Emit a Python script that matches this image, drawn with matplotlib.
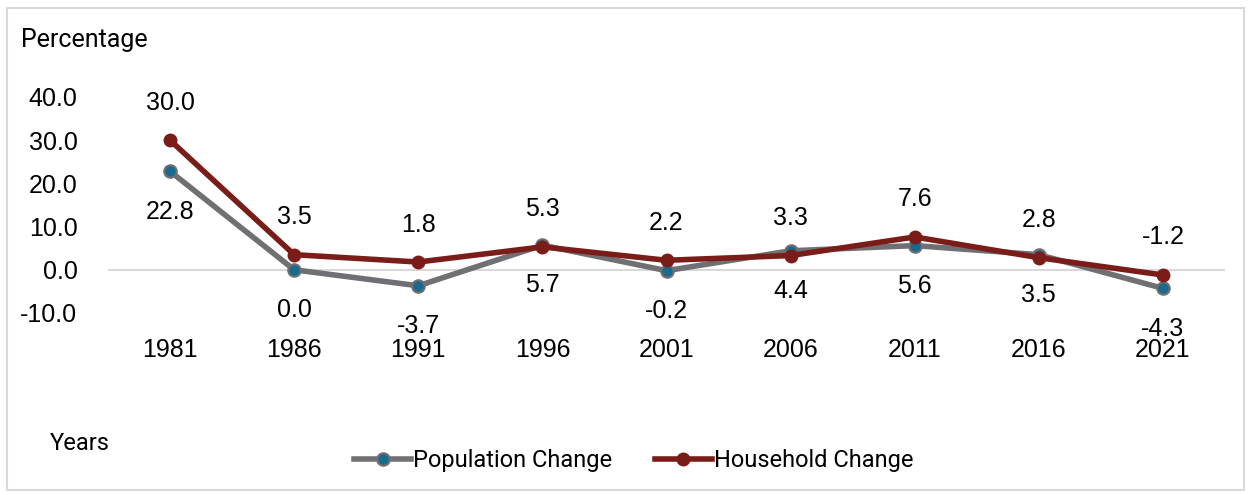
import matplotlib
matplotlib.use("Agg")
import matplotlib.pyplot as plt
from matplotlib.patches import Rectangle

years = ["1981", "1986", "1991", "1996", "2001", "2006", "2011", "2016", "2021"]
population_change = [22.8, 0.0, -3.7, 5.7, -0.2, 4.4, 5.6, 3.5, -4.3]
household_change = [30.0, 3.5, 1.8, 5.3, 2.2, 3.3, 7.6, 2.8, -1.2]
y_ticks = [-10.0, 0.0, 10.0, 20.0, 30.0, 40.0]

GREY = "#707074"
BLUE = "#1b6a8e"
RED = "#7a1c17"

plt.rcParams["font.family"] = ["Liberation Sans", "DejaVu Sans"]

fig = plt.figure(figsize=(12.5, 4.95), dpi=100)
fig.patches.append(Rectangle((7 / 1250, 5 / 495), 1237 / 1250, 482 / 495,
                             transform=fig.transFigure, fill=False,
                             edgecolor="#d9d9d9", linewidth=1.5))

ax = fig.add_axes([108 / 1250, (495 - 313) / 495, (1225 - 108) / 1250, 216 / 495])
x = list(range(len(years)))

ax.axhline(0, color="#d9d9d9", linewidth=1.5, zorder=1)
ax.plot(x, population_change, color=GREY, linewidth=4, marker="o", markersize=9,
        markerfacecolor=BLUE, markeredgecolor=GREY, markeredgewidth=1.5,
        label="Population Change", zorder=3)
ax.plot(x, household_change, color=RED, linewidth=4, marker="o", markersize=9,
        markerfacecolor=RED, markeredgecolor=RED,
        label="Household Change", zorder=4)

# value labels: household above the point, population below
for i in x:
    ax.annotate(f"{household_change[i]:.1f}", (i, household_change[i]),
                xytext=(0, 27), textcoords="offset points",
                ha="center", va="center", fontsize=18)
    ax.annotate(f"{population_change[i]:.1f}", (i, population_change[i]),
                xytext=(0, -29), textcoords="offset points",
                ha="center", va="center", fontsize=18)

ax.set_xlim(-0.5, len(years) - 0.5)
ax.set_ylim(-10, 40)
ax.set_yticks(y_ticks)
ax.set_yticklabels([f"{v:.1f}" for v in y_ticks], fontsize=18)
ax.set_xticks(x)
ax.set_xticklabels(years, fontsize=18)
ax.tick_params(axis="both", length=0)
ax.tick_params(axis="x", pad=18)
ax.tick_params(axis="y", pad=22)
for s in ax.spines.values():
    s.set_visible(False)

fig.text(21 / 1250, 1 - 40 / 495, "Percentage", fontsize=18, family="Roboto",
         ha="left", va="center")
fig.text(50 / 1250, 1 - 443 / 495, "Years", fontsize=17, family="Roboto",
         ha="left", va="center")

handles, labels = ax.get_legend_handles_labels()
fig.legend(handles, labels, loc="center", bbox_to_anchor=(634 / 1250, 1 - 461 / 495),
           ncol=2, frameon=False, prop={"family": "Roboto", "size": 17},
           handlelength=2.4, handletextpad=0.1, columnspacing=1.8)

fig.savefig("out.png", dpi=100)
